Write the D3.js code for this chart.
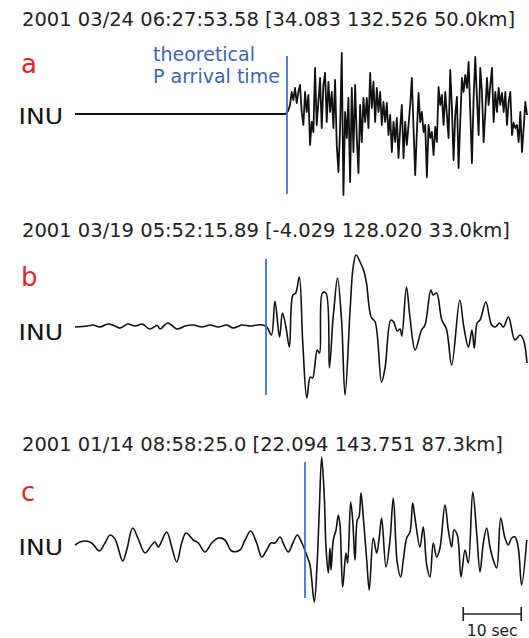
<!DOCTYPE html>
<html>
<head>
<meta charset="utf-8">
<script src="https://cdn.jsdelivr.net/npm/d3@7"></script>
<style>
  html, body { margin: 0; padding: 0; background: #fff; }
  svg { display: block; }
  text { font-family: "DejaVu Sans", Verdana, sans-serif; }
</style>
</head>
<body>
<svg id="chart" width="529" height="638"></svg>
<script>
// ---------------- data ----------------
const titles = [
  "2001 03/24 06:27:53.58 [34.083 132.526 50.0km]",
  "2001 03/19 05:52:15.89 [-4.029 128.020 33.0km]",
  "2001 01/14 08:58:25.0 [22.094 143.751 87.3km]"
];
const panelLabels = ["a", "b", "c"];
const stationName = "INU";
const arrivalNote = ["theoretical", "P arrival time"];
// theoretical P arrival time (s from trace start)
const arrivalTimes = [36.58, 32.96, 39.69];

// trace a: flat before arrival, then uniformly sampled record
const aPreTimes = [0, 36.3];
const aPreVals = [0, 0];
const aStart = 36.53;      // s
const aStep = 0.288;       // s
const aVals = [1,4,9,22,14,26,11,22,29,2,-11,22,2,19,-31,-8,-18,46,-11,12,36,-14,29,41,-8,32,2,22,-14,34,
  -31,-58,-14,61,-81,2,-24,16,-68,26,-38,29,-24,-59,9,-28,16,-8,16,-14,41,6,32,-8,26,2,22,-11,12,-8,
  11,-21,-1,-38,-8,-28,-4,-44,-14,
  9,-44,-8,-31,-11,9,36,-14,-61,-18,21,-8,2,-18,-11,-63,-11,-24,-18,-41,-13,-28,27,9,19,-11,22,-1,-24,44,
  6,-46,-1,17,-54,-8,36,22,39,26,52,2,-49,16,57,16,-21,46,22,-28,2,36,9,29,46,-8,22,2,26,9,
  21,2,22,-11,12,22,-21,-9,-14,-11,-28,2,-38,-14,12,-1];

// trace b
const bTimes = [0,2.1,3.1,4.3,5.7,6.9,7.8,9.1,10.4,11.6,12.9,14.2,14.7,16.0,17.6,19.0,20.4,21.9,23.3,24.7,26.2,27.3,28.8,30.2,31.4,32.4,
  33.1,33.9,34.5,35.3,35.8,36.4,37.0,37.6,38.1,38.7,39.3,40.0,40.6,41.0,41.8,42.2,42.7,43.3,43.9,44.5,44.7,45.3,46.0,46.6,47.5,48.0,48.5,49.2,49.9,50.3,
  51.1,51.8,52.9,53.5,54.5,55.0,55.6,56.1,56.4,57.2,57.8,58.7,59.8,60.4,61.4,61.8,62.4,63.3,64.1,65.0,66.4,67.1,67.9,68.5,68.9,69.4,69.9,70.9,
  71.9,72.5,73.3,73.9,74.8,75.9,76.8,77.4,78.0];
const bVals = [-1,0,1,-1,2,0,-2,2,0,2,-3,0.5,-3,3,-3,0,1,-1,1,-1,1,-2,1,0,1,1,
  -1,-9,25,-11,13,-1,-21,31,33,49,-16,-72,-51,-52,-24,-27,33,33,-42,6,18,48,6,-69,19,59,71,64,54,43,
  9,4,-56,-42,6,4,-5,-3,-10,39,9,-24,-4,1,36,31,33,6,-3,-39,26,-1,-21,-4,-22,3,6,24,
  1,-1,3,-1,9,-14,-9,-14,-37];

// trace c
const cTimes = [0,0.86,1.73,2.88,4.19,5.18,6.04,6.9,8.23,8.92,9.96,10.92,12.08,13.24,13.8,14.37,15.82,16.69,17.55,18.41,19.15,20.41,21.28,22.43,23.59,
  24.73,25.88,27.04,28.47,29.34,30.32,31.35,32.22,33.08,33.82,34.51,35.38,36.07,36.81,37.67,38.36,39.12,39.98,40.55,41.29,41.81,42.16,42.57,43.02,
  43.31,43.71,44.0,44.18,44.57,45.04,45.44,45.73,46.19,46.76,47.05,47.57,47.92,48.32,48.71,49.01,49.35,49.75,50.34,50.78,51.47,52.06,52.51,52.92,
  53.67,54.36,54.93,55.62,56.2,56.65,57.24,57.81,58.27,58.67,59.53,60.1,60.69,61.26,61.83,62.42,62.98,63.85,64.42,65.0,65.4,65.97,66.61,67.3,
  67.87,68.63,69.32,69.89,70.46,71.04,71.61,72.18,72.77,73.46,74.2,74.77,75.36,75.93,76.5,77.08,77.95];
const cVals = [-1,2,3,1,-7,1,9,5,-17,-6,16,5,-9,-1,2,-3,12,-3,-18,1,11,4,1,-8,1,
  6,4,-7,-6,4,13,1,-13,-6,1,1,7,-1,-8,2,9,1.5,-11,-21,-58,-16,34,87,47,
  -3,-29,-4,-26,4,14,29,19,-43,-9,-19,42,24,-16,24,27,51,27,-16,-46,6,-9,7,26,
  -23,4,46,-19,-33,-16,6,12,41,26,-3,17,-21,-33,1,-13,-4,39,14,-3,14,9,-33,-6,
  -19,52,11,-28,1,16,-3,-16,-24,26,6,-1,6,7,-4,-41,4];

const scaleBarStart = 67;   // s
const scaleBarLength = 10;  // s
const scaleBarLabel = "10 sec";

// ---------------- drawing ----------------
const svg = d3.select("#chart");
const x = d3.scaleLinear().domain([0, 78]).range([75, 527]);

const aPts = aPreTimes.map((t, i) => [t, aPreVals[i]])
  .concat(aVals.map((v, i) => [aStart + i * aStep, v]));
const bPts = bTimes.map((t, i) => [t, bVals[i]]);
const cPts = cTimes.map((t, i) => [t, cVals[i]]);

const smooth = d3.curveCatmullRom.alpha(0.5);
const panels = [
  { pts: aPts, base: 114, titleY: 26, labelY: 73, inuY: 124, lineTop: 56, lineBot: 194, curve: d3.curveLinear, sw: 1.8 },
  { pts: bPts, base: 326, titleY: 237, labelY: 285.5, inuY: 340, lineTop: 259, lineBot: 395, curve: smooth, sw: 1.6 },
  { pts: cPts, base: 544, titleY: 451, labelY: 501, inuY: 555, lineTop: 462, lineBot: 598, curve: smooth, sw: 1.6 }
];

panels.forEach((p, i) => {
  const y = d3.scaleLinear().domain([-100, 100]).range([p.base + 100, p.base - 100]);
  const g = svg.append("g");

  g.append("text").attr("x", 22).attr("y", p.titleY)
    .attr("font-size", 19.5).attr("fill", "#222").text(titles[i]);

  g.append("text").attr("x", 21).attr("y", p.labelY)
    .attr("font-size", 26).attr("fill", "#e3262d").text(panelLabels[i]);

  g.append("text").attr("x", 18.5).attr("y", p.inuY)
    .attr("font-size", 21.5).attr("fill", "#111")
    .attr("textLength", 44.5).attr("lengthAdjust", "spacingAndGlyphs")
    .text(stationName);

  const line = d3.line().x(d => x(d[0])).y(d => y(d[1])).curve(p.curve);
  g.append("path").datum(p.pts).attr("d", line)
    .attr("fill", "none").attr("stroke", "#111").attr("stroke-width", p.sw)
    .attr("stroke-linejoin", "round");

  g.append("line")
    .attr("x1", x(arrivalTimes[i])).attr("x2", x(arrivalTimes[i]))
    .attr("y1", p.lineTop).attr("y2", p.lineBot)
    .attr("stroke", "#4472c4").attr("stroke-width", 1.8);
});

// arrival annotation
svg.append("text").attr("x", 153).attr("y", 61)
  .attr("font-size", 19).attr("fill", "#3d64b0").text(arrivalNote[0]);
svg.append("text").attr("x", 153).attr("y", 83)
  .attr("font-size", 19).attr("fill", "#3d64b0").text(arrivalNote[1]);

// scale bar
const sb = svg.append("g");
const x0 = x(scaleBarStart), x1 = x(scaleBarStart + scaleBarLength);
sb.append("line").attr("x1", x0).attr("x2", x1).attr("y1", 614).attr("y2", 614)
  .attr("stroke", "#222").attr("stroke-width", 1.6);
[x0, x1].forEach(xx => sb.append("line").attr("x1", xx).attr("x2", xx)
  .attr("y1", 607).attr("y2", 621).attr("stroke", "#222").attr("stroke-width", 1.6));
sb.append("text").attr("x", (x0 + x1) / 2).attr("y", 635.5)
  .attr("text-anchor", "middle").attr("font-size", 15.5).attr("fill", "#222")
  .text(scaleBarLabel);
</script>
</body>
</html>
